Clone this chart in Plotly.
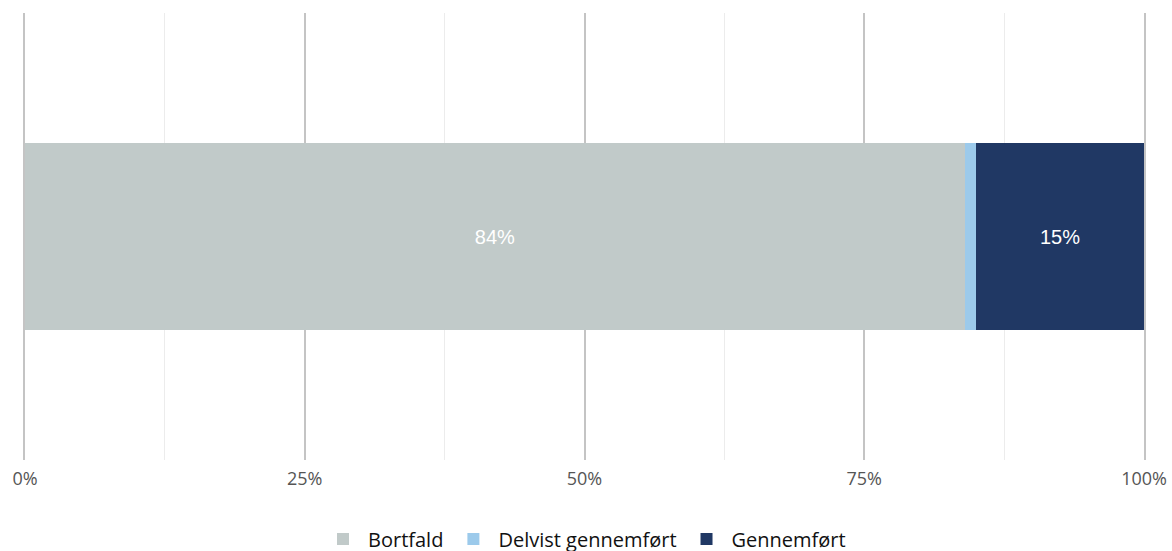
import plotly.graph_objects as go

categories = [""]
series_names = ["Bortfald", "Delvist gennemført", "Gennemført"]
values = [84, 1, 15]
labels = ["84%", "", "15%"]
colors = ["#c1cac9", "#9ccaeb", "#203864"]
tick_vals = [0, 25, 50, 75, 100]
tick_text = ["0%", "25%", "50%", "75%", "100%"]

fig = go.Figure()
for name, v, lab, c in zip(series_names, values, labels, colors):
    fig.add_trace(go.Bar(
        x=[v], y=categories, name=name, orientation="h",
        marker=dict(color=c, line=dict(width=0)),
        text=[lab], textposition="inside", insidetextanchor="middle",
        textfont=dict(family="Liberation Sans", size=20, color="white"),
        width=0.42, hoverinfo="skip",
    ))

fig.update_layout(
    barmode="stack",
    width=1172, height=551,
    margin=dict(l=25, r=28, t=13, b=91, autoexpand=False),
    plot_bgcolor="white", paper_bgcolor="white",
    showlegend=True,
    legend=dict(orientation="h", x=0.5, xanchor="center", y=-0.133, yanchor="top",
                font=dict(family="Open Sans", size=20, color="#111111"),
                traceorder="normal", itemwidth=40),
    xaxis=dict(range=[0, 100], tickvals=tick_vals, ticktext=tick_text,
               automargin=False, ticklabelstandoff=6,
               showgrid=True, gridcolor="#c4c4c4", gridwidth=2,
               zeroline=False, showline=False, ticks="",
               tickfont=dict(family="Open Sans", size=18, color="#555555"),
               minor=dict(dtick=12.5, showgrid=True, gridcolor="#ececec", gridwidth=1)),
    yaxis=dict(range=[-0.5, 0.5], showticklabels=False, showgrid=False, zeroline=False,
               automargin=False,
               showline=True, linecolor="#c4c4c4", linewidth=2, mirror=True),
)

fig.write_html("out.html", config={"displayModeBar": False},
               post_script="document.body.style.margin='0';document.body.style.overflow='hidden';")
